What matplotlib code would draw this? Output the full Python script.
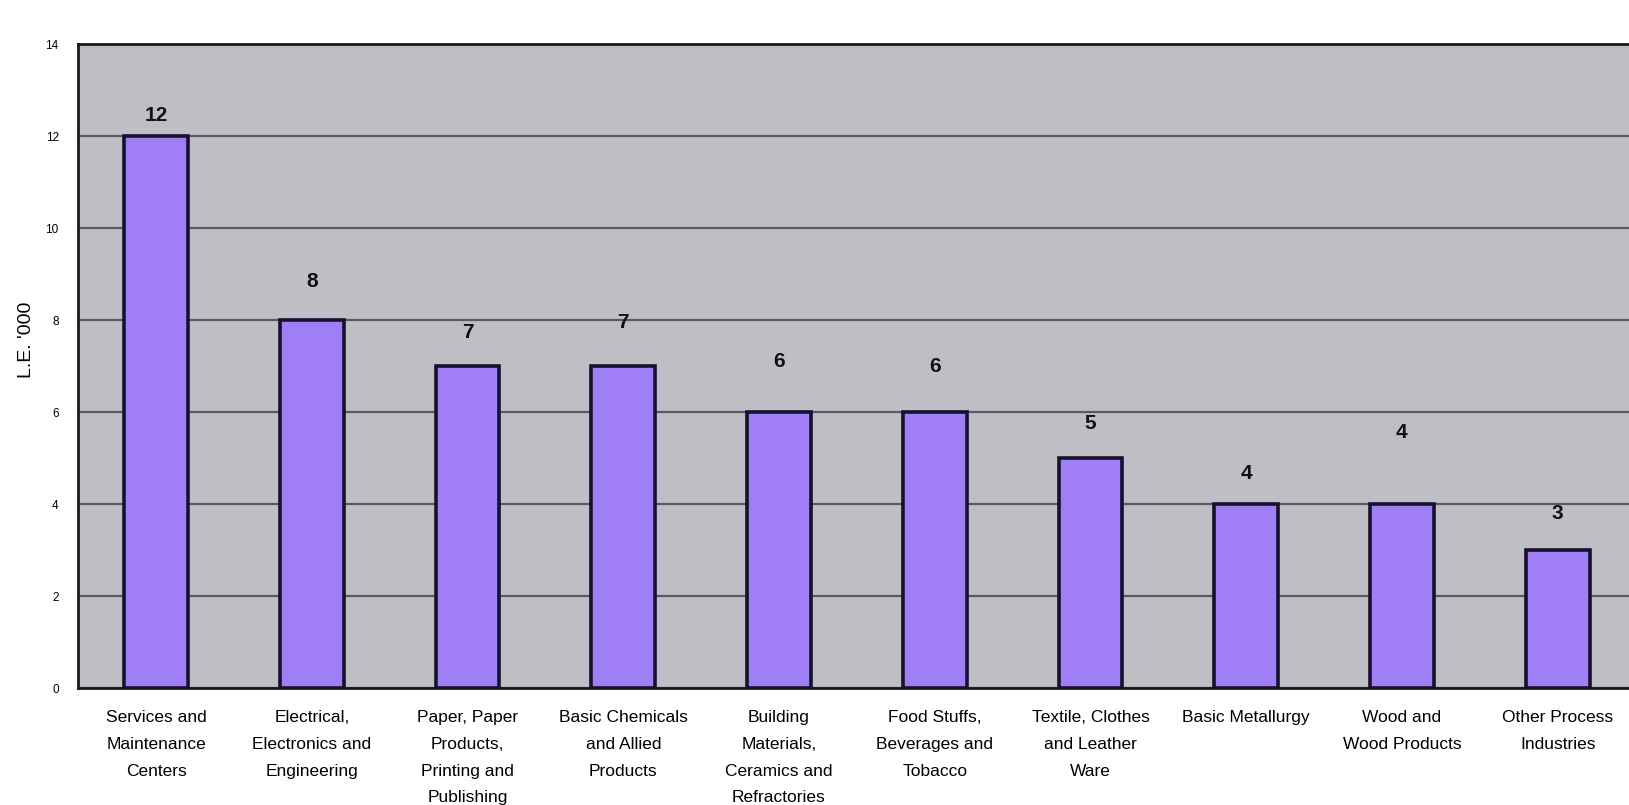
import matplotlib
matplotlib.use("Agg")
import matplotlib.pyplot as plt
import numpy as np

categories = [
    "Services and\nMaintenance\nCenters",
    "Electrical,\nElectronics and\nEngineering",
    "Paper, Paper\nProducts,\nPrinting and\nPublishing",
    "Basic Chemicals\nand Allied\nProducts",
    "Building\nMaterials,\nCeramics and\nRefractories",
    "Food Stuffs,\nBeverages and\nTobacco",
    "Textile, Clothes\nand Leather\nWare",
    "Basic Metallurgy",
    "Wood and\nWood Products",
    "Other Process\nIndustries",
]
values = [12, 8, 7, 7, 6, 6, 5, 4, 4, 3]
y_ticks = [0, 2, 4, 6, 8, 10, 12, 14]

# vertical gap between each bar top and its value label (data units)
label_gaps = [0.45, 0.84, 0.73, 0.95, 1.1, 1.0, 0.75, 0.66, 1.56, 0.8]

plt.rcParams["font.family"] = ["Liberation Sans", "DejaVu Sans"]

fig = plt.figure(figsize=(16.29, 8.05), dpi=100)
fig.patch.set_facecolor("white")
ax = fig.add_axes([0.048, 0.1453, 0.956, 0.80])
ax.set_facecolor("#bebec4")

x = np.arange(len(categories))
ax.bar(x, values, width=0.41, color="#a07ef6", edgecolor="#15112e",
       linewidth=2.6, zorder=3)

for xi, v, g in zip(x, values, label_gaps):
    ax.text(xi, v + g, str(v), ha="center", va="center",
            fontsize=15, fontweight="bold", color="#111111", zorder=4)

ax.set_xlim(-0.5, len(categories) - 0.5)
ax.set_ylim(0, 14)
ax.set_yticks(y_ticks)
ax.set_yticklabels([str(t) for t in y_ticks], fontsize=8.5)
ax.yaxis.grid(True, color="#5a5a60", linewidth=1.6, zorder=1)
ax.set_axisbelow(True)
ax.tick_params(axis="both", length=0)
ax.tick_params(axis="y", pad=14)

ax.set_xticks(x)
ax.set_xticklabels(categories, fontsize=12.5, linespacing=1.97, va="top")
ax.tick_params(axis="x", pad=16)

ax.set_ylabel("L.E. '000", fontsize=14)
ax.yaxis.set_label_coords(-0.028, 0.54)

for side in ["left", "top", "bottom"]:
    ax.spines[side].set_color("#1a1a1a")
    ax.spines[side].set_linewidth(2)
ax.spines["right"].set_visible(False)

fig.savefig("out.png", dpi=100, facecolor="white")
